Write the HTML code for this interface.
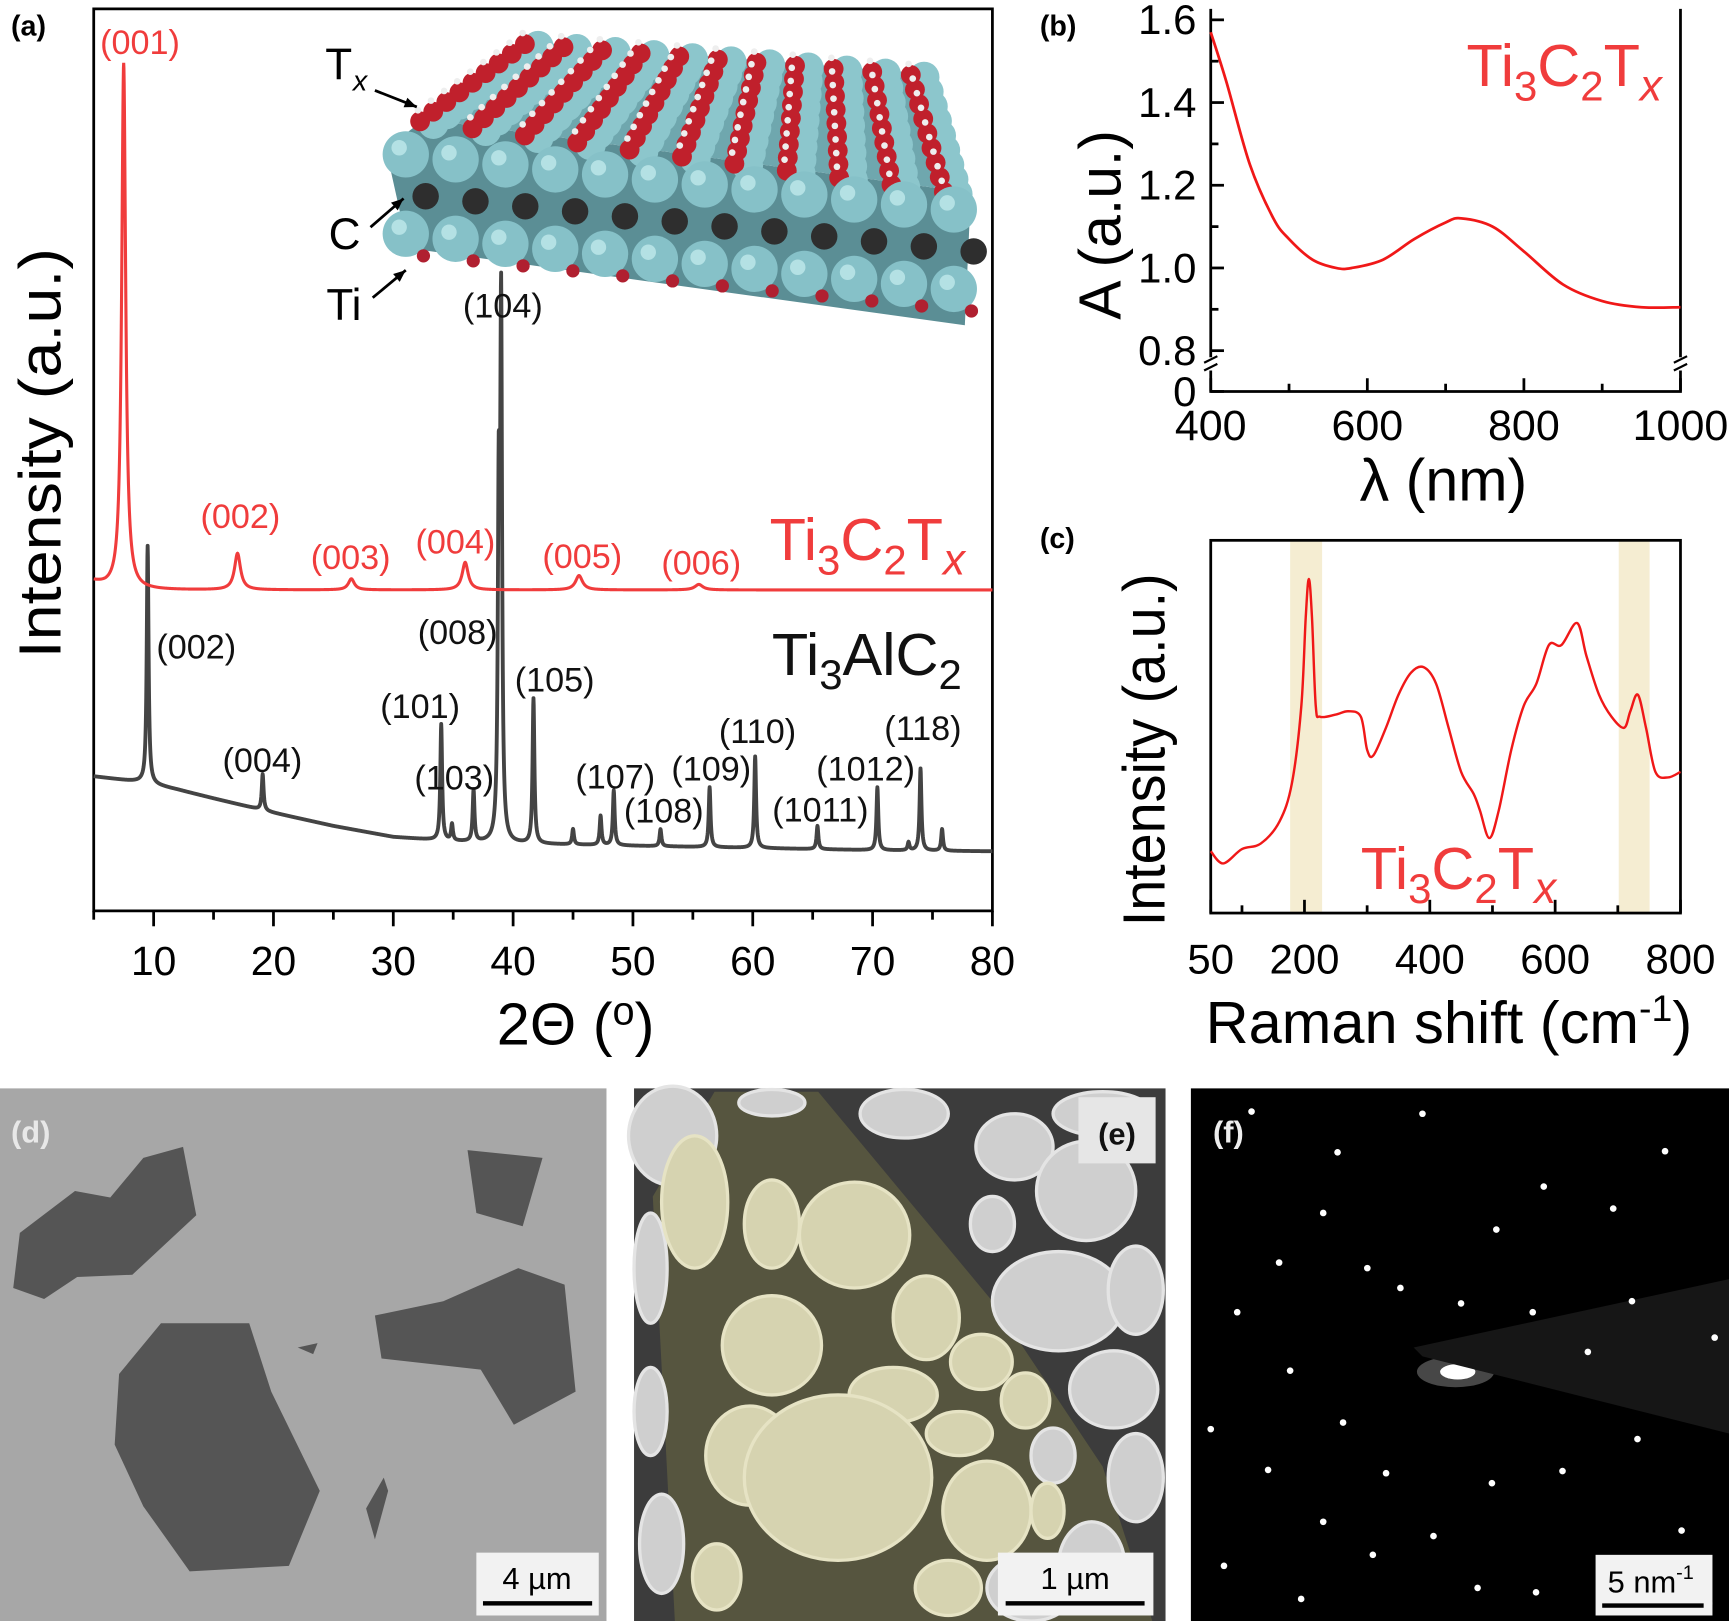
<!DOCTYPE html>
<html><head><meta charset="utf-8"><style>
html,body{margin:0;padding:0;background:#fff}
svg{display:block}
text{font-family:"Liberation Sans",Arial,sans-serif}
</style></head><body>
<svg id="fig" width="1729" height="1621" viewBox="0 0 1568 1470" preserveAspectRatio="none" xmlns="http://www.w3.org/2000/svg">
<g id="pa"></g>
<g id="pb"></g>
<g id="pc"></g>
<g id="pd"></g>
<g id="pe"></g>
<g id="pf"></g>
</svg>
<script>
// ---------- Panel (a) data ----------
const xrdBaseX = [5,8,9,12,15,20,25,30,35,40,50,60,70,80];
const xrdBaseV = [122,118,117,110,102,89,77,67,63,61,59,57,55,54];
const alcPeakPos = [9.5,19.1,34.0,34.9,36.7,38.8,39.0,41.7,45.0,47.3,48.4,52.3,56.4,60.2,65.4,70.4,73.0,74.0,75.8];
const alcPeakTop = [331,124,169,78,109,356,529,192,74,86,109,74,112,140,77,112,62,129,74];
const mxBaseX = [5,6,7,80];
const mxBaseV = [298,294,291,291];
const mxPeakPos = [7.5,17.0,26.5,36.0,45.5,55.5];
const mxPeakTop = [769,324,301,316,304,296];
const mxPeakW = [0.2,0.3,0.3,0.3,0.35,0.4];
const mxLabels = ["(001)","(002)","(003)","(004)","(005)","(006)"];
const alcLabels = ["(002)","(004)","(101)","(103)","(104)","(008)","(105)","(107)","(108)","(109)","(110)","(1011)","(1012)","(118)"];
const xTicksA = [10,20,30,40,50,60,70,80];
// ---------- Panel (b) data ----------
const uvX = [400,420,450,480,500,530,560,580,620,660,700,720,760,800,850,900,950,1000];
const uvA = [1.57,1.45,1.25,1.12,1.07,1.02,1.0,1.0,1.02,1.07,1.11,1.12,1.10,1.04,0.96,0.92,0.905,0.905];
const yTicksB = [0.8,1.0,1.2,1.4,1.6];
const xTicksB = [400,600,800,1000];
// ---------- Panel (c) data ----------
const ramX = [50,70,100,130,160,180,195,202,207,212,218,225,250,270,290,300,310,330,350,370,390,410,430,450,470,480,495,510,530,550,570,590,610,635,650,670,690,710,720,732,745,760,780,800];
const ramI = [56,45,58,63,83,118,188,268,303,268,188,178,180,183,178,148,143,168,198,218,223,208,168,128,108,93,68,93,148,188,208,243,243,263,233,198,178,168,183,198,168,128,123,128];
const xTicksC = [50,200,400,600,800];

const NS="http://www.w3.org/2000/svg";
function mk(parent,tag,attrs,txt){const e=document.createElementNS(NS,tag);for(const k in attrs)e.setAttribute(k,attrs[k]);if(txt!==undefined)e.textContent=txt;parent.appendChild(e);return e;}
function interp(xs,ys,x){if(x<=xs[0])return ys[0];for(let i=1;i<xs.length;i++){if(x<=xs[i]){const t=(x-xs[i-1])/(xs[i]-xs[i-1]);return ys[i-1]+t*(ys[i]-ys[i-1]);}}return ys[ys.length-1];}
function smooth(P){let d='M'+P[0][0]+' '+P[0][1];for(let i=0;i<P.length-1;i++){const p0=P[Math.max(0,i-1)],p1=P[i],p2=P[i+1],p3=P[Math.min(P.length-1,i+2)];
  d+=` C${p1[0]+(p2[0]-p0[0])/6} ${p1[1]+(p2[1]-p0[1])/6} ${p2[0]-(p3[0]-p1[0])/6} ${p2[1]-(p3[1]-p1[1])/6} ${p2[0]} ${p2[1]}`;}return d;}
const MX='Ti<tspan font-size="38" dy="13">3</tspan><tspan dy="-13">C</tspan><tspan font-size="38" dy="13">2</tspan><tspan dy="-13">T</tspan><tspan font-style="italic" font-size="40" dy="13">x</tspan>';

// ===== Panel A =====
const pa=document.getElementById('pa');
const ax=v=>85+(v-5)*(815/75);
const ay=v=>826-v;
let el=mk(pa,'path',{d:'M85 8 V826 H900 V8 Z',fill:'none',stroke:'#000','stroke-width':2.5});


for(let t=5;t<=80;t+=5){
  const maj=t%10===0;
  el=mk(pa,'line',{x1:ax(t),x2:ax(t),y1:826,y2:826+(maj?14:8),stroke:'#000','stroke-width':2.5});
  
  
}
xTicksA.forEach(t=>{
  el=mk(pa,'text',{x:ax(t),y:884,'font-size':37,'text-anchor':'middle'},String(t));
  
  
});
let dB='';
for(let i=0;i<=3750;i++){const x=5+i*0.02;let v=interp(xrdBaseX,xrdBaseV,x);
  alcPeakPos.forEach((p,k)=>{const h=alcPeakTop[k]-interp(xrdBaseX,xrdBaseV,p);const z=(x-p)/0.09;v+=h/(1+z*z);});
  dB+=(i?'L':'M')+ax(x).toFixed(2)+' '+ay(v).toFixed(2);}
el=mk(pa,'path',{d:dB,fill:'none',stroke:'#444','stroke-width':3.5,'stroke-linejoin':'round'});


let dR='';
for(let i=0;i<=3750;i++){const x=5+i*0.02;let v=interp(mxBaseX,mxBaseV,x);
  mxPeakPos.forEach((p,k)=>{const h=mxPeakTop[k]-interp(mxBaseX,mxBaseV,p);const z=(x-p)/mxPeakW[k];v+=h/(1+z*z);});
  dR+=(i?'L':'M')+ax(x).toFixed(2)+' '+ay(v).toFixed(2);}
el=mk(pa,'path',{d:dR,fill:'none',stroke:'#f03c3c','stroke-width':2.8});


const mxLP=[[127,49],[218,479],[318,516],[413,502],[528,515],[636,521]];
mxLabels.forEach((s,i)=>{el=mk(pa,'text',{x:mxLP[i][0],y:mxLP[i][1],'font-size':31,'text-anchor':'middle',fill:'#f03c3c'},s);
  
  });
const alcLP=[[178,597],[238,700],[381,651],[412,716],[456,288],[415,584],[503,627],[558,715],[602,746],[645,708],[687,674],[744,745],[785,708],[837,671]];
alcLabels.forEach((s,i)=>{el=mk(pa,'text',{x:alcLP[i][0],y:alcLP[i][1],'font-size':31,'text-anchor':'middle',fill:'#111'},s);
  
  });
el=mk(pa,'text',{x:698,y:508,'font-size':54,fill:'#f03c3c'});
el.innerHTML=MX;


el=mk(pa,'text',{x:700,y:612,'font-size':54,fill:'#111'});
el.innerHTML='Ti<tspan font-size="38" dy="13">3</tspan><tspan dy="-13">AlC</tspan><tspan font-size="38" dy="13">2</tspan>';


el=mk(pa,'text',{x:0,y:0,'font-size':54,'text-anchor':'middle',textLength:372,lengthAdjust:'spacingAndGlyphs',transform:'translate(55,411) rotate(-90)'},'Intensity (a.u.)');


el=mk(pa,'text',{x:522,y:947,'font-size':54,'text-anchor':'middle'});
el.innerHTML='2Θ (<tspan font-size="36" dy="-18">o</tspan><tspan dy="18">)</tspan>';


el=mk(pa,'text',{x:10,y:32,'font-size':26,'font-weight':'bold'},'(a)');


// crystal inset
const cg=mk(pa,'g',{});


const F0=[385,108],F1=[860,172],B0=[480,38],B1=[830,66];
function bil(u,v){const fx=F0[0]+(F1[0]-F0[0])*u,fy=F0[1]+(F1[1]-F0[1])*u,bx=B0[0]+(B1[0]-B0[0])*u,by=B0[1]+(B1[1]-B0[1])*u;return [bx+(fx-bx)*v,by+(fy-by)*v];}
mk(cg,'polygon',{points:'350,135 385,108 860,172 880,185 875,295 370,225',fill:'#5b8e95'});
mk(cg,'polygon',{points:'385,108 480,38 830,66 860,172',fill:'#6fa7ae'});
const nR=9,nC=11;
for(let r=0;r<nR;r++){for(let c=0;c<nC;c++){const [x,y]=bil(c/(nC-1),r/(nR-1));
  mk(cg,'circle',{cx:x+8,cy:y+4,r:14,fill:'#8cc6cc'});}}
for(let r=0;r<nR;r++){for(let c=0;c<nC;c++){const [x,y]=bil(c/(nC-1),r/(nR-1));
  mk(cg,'circle',{cx:x-4,cy:y+2,r:9,fill:'#c0202c'});
  mk(cg,'circle',{cx:x-6,cy:y-8,r:3,fill:'#eee'});}}
for(let L=0;L<3;L++){const off=[40,78,112][L];
  for(let c=0;c<12;c++){const u=c/11;const x=368+(865-368)*u,y=140+(190-140)*u+off-40;
    if(L===1){mk(cg,'circle',{cx:x+18,cy:y,r:12,fill:'#2e2e2e'});}
    else{mk(cg,'circle',{cx:x,cy:y,r:21,fill:'#86c1c8'});mk(cg,'circle',{cx:x-6,cy:y-6,r:7,fill:'#c8eef0',opacity:0.7});
      if(L===2)mk(cg,'circle',{cx:x+16,cy:y+20,r:6,fill:'#b02030'});}}}
const lab=[["C",298,226],["Ti",296,290]];
el=mk(pa,'text',{x:295,y:72,'font-size':40},'T');


el=mk(pa,'text',{x:320,y:82,'font-size':26,'font-style':'italic'},'x');


lab.forEach(l=>{el=mk(pa,'text',{x:l[1],y:l[2],'font-size':40},l[0]);
  
  });
[[340,82,378,97],[336,206,366,180],[338,270,368,245]].forEach(a=>{
  el=mk(pa,'line',{x1:a[0],y1:a[1],x2:a[2],y2:a[3],stroke:'#000','stroke-width':2.5});
  
  
  const ang=Math.atan2(a[3]-a[1],a[2]-a[0]);const L=12;
  mk(pa,'polygon',{points:`${a[2]},${a[3]} ${a[2]-L*Math.cos(ang-0.4)},${a[3]-L*Math.sin(ang-0.4)} ${a[2]-L*Math.cos(ang+0.4)},${a[3]-L*Math.sin(ang+0.4)}`,fill:'#000'});
});

// ===== Panel B =====
const pb=document.getElementById('pb');
const bx=v=>1098+(v-400)*(426/600);
const by=v=>318-(v-0.8)*375;
el=mk(pb,'path',{d:'M1098 8 V355 H1524 V8',fill:'none',stroke:'#000','stroke-width':2.5});


mk(pb,'rect',{x:1090,y:324,width:16,height:12,fill:'#fff'});
mk(pb,'rect',{x:1516,y:324,width:16,height:12,fill:'#fff'});
[[1092,326],[1092,333],[1518,326],[1518,333]].forEach(p=>mk(pb,'line',{x1:p[0],y1:p[1]+3,x2:p[0]+12,y2:p[1]-3,stroke:'#000','stroke-width':2}));
for(let v=0.8;v<=1.61;v+=0.1){const maj=Math.round(v*10)%2===0;
  el=mk(pb,'line',{x1:1098,x2:1098+(maj?12:7),y1:by(v),y2:by(v),stroke:'#000','stroke-width':2.5});
  
  }
mk(pb,'line',{x1:1098,x2:1110,y1:355,y2:355,stroke:'#000','stroke-width':2.5});
yTicksB.forEach(t=>{el=mk(pb,'text',{x:1085,y:by(t)+13,'font-size':38,'text-anchor':'end'},t.toFixed(1));
  
  });
el=mk(pb,'text',{x:1085,y:368,'font-size':38,'text-anchor':'end'},'0');


for(let t=400;t<=1000;t+=100){const maj=(t%200===0);
  el=mk(pb,'line',{x1:bx(t),x2:bx(t),y1:355,y2:355-(maj?12:7),stroke:'#000','stroke-width':2.5});
  
  }
xTicksB.forEach(t=>{el=mk(pb,'text',{x:bx(t),y:399,'font-size':39,'text-anchor':'middle'},String(t));
  
  });
el=mk(pb,'path',{d:smooth(uvX.map((x,i)=>[bx(x),by(uvA[i])])),fill:'none',stroke:'#f01818','stroke-width':2.5});


el=mk(pb,'text',{x:1330,y:78,'font-size':54,fill:'#f03c3c'});
el.innerHTML=MX;


el=mk(pb,'text',{x:0,y:0,'font-size':54,'text-anchor':'middle',textLength:172,lengthAdjust:'spacingAndGlyphs',transform:'translate(1016,204) rotate(-90)'},'A (a.u.)');


el=mk(pb,'text',{x:1309,y:454,'font-size':54,'text-anchor':'middle',textLength:152,lengthAdjust:'spacingAndGlyphs'},'λ (nm)');


el=mk(pb,'text',{x:943,y:32,'font-size':26,'font-weight':'bold'},'(b)');



// ===== Panel C =====
const pc=document.getElementById('pc');
const cx=v=>v<=200?1098+(v-50)/150*85:1183+(v-200)*(341/600);
const cy=v=>828-v;
el=mk(pc,'rect',{x:1170,y:490,width:29,height:338,fill:'#f5edd2'});


el=mk(pc,'rect',{x:1468,y:490,width:28,height:338,fill:'#f5edd2'});


el=mk(pc,'rect',{x:1098,y:490,width:426,height:338,fill:'none',stroke:'#000','stroke-width':2.5});


[50,100,200,300,400,500,600,700,800].forEach(t=>{const maj=xTicksC.includes(t);
  el=mk(pc,'line',{x1:cx(t),x2:cx(t),y1:828,y2:828-(maj?12:7),stroke:'#000','stroke-width':2.5});
  
  });
xTicksC.forEach(t=>{el=mk(pc,'text',{x:cx(t),y:883,'font-size':38,'text-anchor':'middle'},String(t));
  
  });
el=mk(pc,'path',{d:smooth(ramX.map((x,i)=>[cx(x),cy(ramI[i])])),fill:'none',stroke:'#f01818','stroke-width':2.2,'stroke-linejoin':'round'});


el=mk(pc,'text',{x:1234,y:806,'font-size':54,fill:'#f03c3c'});
el.innerHTML=MX;


el=mk(pc,'text',{x:0,y:0,'font-size':54,'text-anchor':'middle',textLength:320,lengthAdjust:'spacingAndGlyphs',transform:'translate(1056,680) rotate(-90)'},'Intensity (a.u.)');


el=mk(pc,'text',{x:1314,y:946,'font-size':54,'text-anchor':'middle'});
el.innerHTML='Raman shift (cm<tspan font-size="34" dy="-20">-1</tspan><tspan dy="20">)</tspan>';


el=mk(pc,'text',{x:943,y:497,'font-size':26,'font-weight':'bold'},'(c)');



// ===== Panel D =====
const pd=document.getElementById('pd');
mk(pd,'rect',{x:0,y:987,width:550,height:483,fill:'#a7a7a7'});
const flakes=['18,1118 12,1168 40,1178 70,1158 120,1156 178,1102 166,1040 130,1050 100,1086 68,1080',
'424,1043 492,1050 474,1112 432,1100','340,1193 346,1232 436,1242 466,1292 522,1262 512,1165 470,1150 402,1180',
'108,1246 146,1200 226,1200 246,1262 290,1352 262,1420 172,1425 130,1366 104,1310','332,1368 348,1340 352,1352 340,1396','270,1222 288,1218 284,1228'];
flakes.forEach(p=>{el=mk(pd,'polygon',{points:p,fill:'#555'});
  
  });
el=mk(pd,'text',{x:10,y:1036,'font-size':28,'font-weight':'bold',fill:'#e8e8e8'},'(d)');


mk(pd,'rect',{x:432,y:1408,width:111,height:57,fill:'#f2f2f2'});
el=mk(pd,'text',{x:487,y:1441,'font-size':28,'text-anchor':'middle'},'4 µm');


mk(pd,'rect',{x:438,y:1452,width:99,height:4,fill:'#000'});

// ===== Panel E =====
const pe=document.getElementById('pe');
mk(pe,'rect',{x:575,y:987,width:482,height:483,fill:'#3c3c3c'});
mk(pe,'polygon',{points:'592,1085 648,990 742,990 900,1180 1000,1330 1045,1470 612,1470',fill:'#56553f'});
const holes=[[610,1030,40,45,'g'],[700,1000,30,12,'g'],[820,1010,40,22,'g'],[920,1040,35,30,'g'],[1000,1010,45,20,'g'],[985,1080,45,45,'g'],[900,1110,20,25,'g'],[960,1180,60,45,'g'],[1030,1170,25,40,'g'],[1010,1260,40,35,'g'],[1030,1340,25,40,'g'],[990,1420,30,40,'g'],[590,1150,15,50,'g'],[590,1280,15,40,'g'],[600,1400,20,45,'g'],[935,1440,40,30,'g'],[955,1320,20,25,'g'],
[630,1090,30,60,'y'],[775,1120,50,48,'y'],[700,1220,45,45,'y'],[840,1195,30,38,'y'],[810,1265,40,25,'y'],[890,1235,28,25,'y'],[930,1270,22,25,'y'],[870,1300,30,20,'y'],[680,1320,40,45,'y'],[760,1340,85,75,'y'],[895,1370,40,45,'y'],[650,1430,22,30,'y'],[860,1440,30,25,'y'],[700,1110,25,40,'y'],[950,1370,15,25,'y']];
holes.forEach(h=>{el=mk(pe,'ellipse',{cx:h[0],cy:h[1],rx:h[2],ry:h[3],fill:h[4]==='g'?'#cfcfcf':'#d6d3b0',stroke:h[4]==='g'?'#e4e4e4':'#e6e3c4','stroke-width':3});
  
  });
mk(pe,'rect',{x:978,y:995,width:70,height:60,fill:'#e6e6e6'});
el=mk(pe,'text',{x:1013,y:1038,'font-size':28,'font-weight':'bold','text-anchor':'middle',fill:'#111'},'(e)');


mk(pe,'rect',{x:905,y:1408,width:141,height:57,fill:'#f2f2f2'});
el=mk(pe,'text',{x:975,y:1441,'font-size':28,'text-anchor':'middle'},'1 µm');


mk(pe,'rect',{x:912,y:1452,width:126,height:4,fill:'#000'});

// ===== Panel F =====
const pf=document.getElementById('pf');
mk(pf,'rect',{x:1080,y:987,width:488,height:483,fill:'#000'});
mk(pf,'ellipse',{cx:1320,cy:1244,rx:35,ry:14,fill:'#777',opacity:0.6});
mk(pf,'ellipse',{cx:1322,cy:1244,rx:16,ry:7,fill:'#fff'});
mk(pf,'polygon',{points:'1282,1222 1568,1160 1568,1300 1290,1230',fill:'#161616'});
const spots=[[1135,1008],[1290,1010],[1213,1045],[1357,1115],[1240,1150],[1122,1190],[1400,1076],[1463,1096],[1510,1044],[1170,1243],[1218,1290],[1270,1168],[1325,1182],[1440,1226],[1555,1213],[1098,1296],[1150,1333],[1200,1380],[1257,1336],[1300,1393],[1353,1345],[1417,1334],[1485,1305],[1525,1388],[1393,1444],[1340,1440],[1110,1420],[1180,1450],[1460,1416],[1550,1454],[1480,1180],[1200,1100],[1390,1190],[1160,1145],[1245,1410]];
spots.forEach(s=>{el=mk(pf,'circle',{cx:s[0],cy:s[1],r:3,fill:'#fff'});
  
  });
el=mk(pf,'text',{x:1100,y:1036,'font-size':28,'font-weight':'bold',fill:'#eee'},'(f)');


mk(pf,'rect',{x:1447,y:1410,width:106,height:55,fill:'#f2f2f2'});
el=mk(pf,'text',{x:1497,y:1444,'font-size':28,'text-anchor':'middle'});
el.innerHTML='5 nm<tspan font-size="18" dy="-12">-1</tspan>';


mk(pf,'rect',{x:1453,y:1454,width:92,height:4,fill:'#000'});
</script>
</body></html>
